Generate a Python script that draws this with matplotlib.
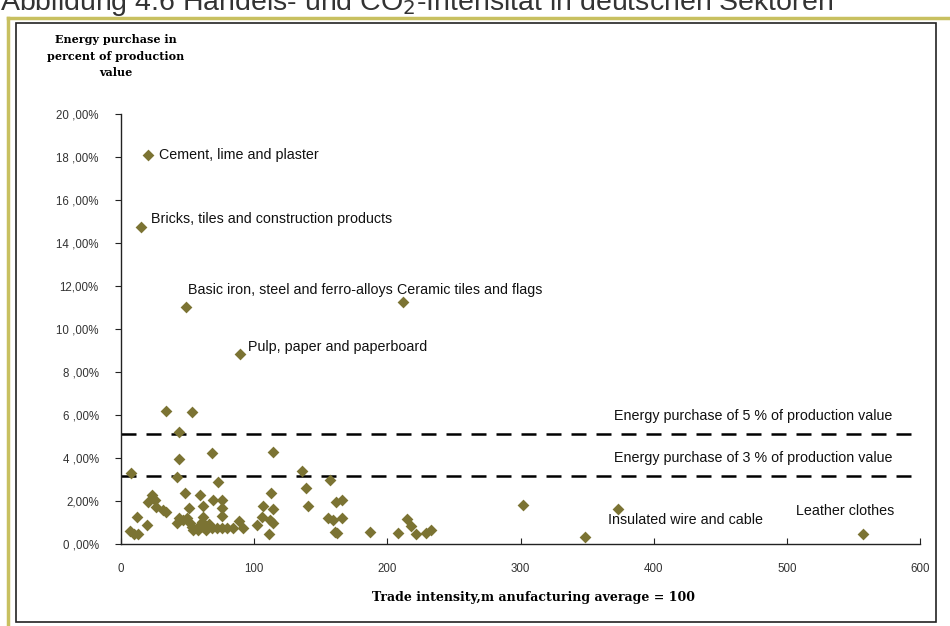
import numpy as np
import matplotlib.pyplot as plt
from matplotlib.lines import Line2D
from matplotlib.patches import Rectangle

# trade intensity (manufacturing average = 100) vs energy purchase in % of production value
trade = [7.5, 6.8, 10, 13, 12, 19.3, 20.5, 23, 25.5, 26.3, 31.8, 34, 33.8, 53.5,
         43.8, 43.8, 42, 41.8, 43.3, 46.8, 48, 51.3, 49.3, 51.8, 53, 54.3, 56.8,
         58, 59.3, 61.3, 61.8, 60.5, 61.8, 63.5, 66.3, 68, 68, 68.8, 71.8, 73,
         75.5, 75.5, 75.5, 75.5, 79.7, 83.8, 88.8, 91.8, 101.8, 106, 106.8, 111.5,
         111.8, 112.5, 114.3, 114.3, 114.3, 136, 139, 140.5, 155.6, 156.8, 159.3,
         161, 161.8, 162, 166.3, 166.3, 187.3, 208, 215, 218, 221.3, 229.3, 232.6,
         301.8, 348.8]
energy = [3.29, 0.62, 0.45, 0.48, 1.27, 0.9, 1.97, 2.28, 2.05, 1.72, 1.58, 1.48,
          6.2, 6.14, 5.19, 3.95, 3.13, 0.96, 1.19, 1.12, 2.36, 1.66, 1.19, 0.96,
          0.81, 0.65, 0.73, 0.65, 2.28, 1.78, 1.27, 1.04, 0.81, 0.65, 0.92, 0.73,
          4.22, 2.05, 0.76, 2.9, 2.05, 1.66, 1.32, 0.76, 0.76, 0.76, 1.07, 0.73,
          0.88, 1.27, 1.77, 0.45, 1.12, 2.39, 1.64, 0.99, 4.26, 3.41, 2.59, 1.77,
          1.19, 2.98, 1.12, 0.57, 1.97, 0.5, 2.05, 1.22, 0.57, 0.53, 1.15, 0.84,
          0.45, 0.53, 0.65, 1.81, 0.34]

# named sectors
sectors = ["Cement, lime and plaster", "Bricks, tiles and construction products",
           "Basic iron, steel and ferro-alloys", "Ceramic tiles and flags",
           "Pulp, paper and paperboard", "Insulated wire and cable", "Leather clothes"]
sector_trade = [20.3, 15, 48.8, 211.6, 89.3, 373.4, 557]
sector_energy = [18.1, 14.74, 11.02, 11.26, 8.84, 1.64, 0.46]
# label anchor (left edge / vertical centre)
label_x = [28.5, 22.5, 50.3, 207.5, 95.3, 366, 507]
label_y = [18.1, 15.1, 11.8, 11.8, 9.16, 1.12, 1.53]

thresholds = [5.1, 3.15]
threshold_text = ["Energy purchase of 5 % of production value",
                  "Energy purchase of 3 % of production value"]

yticks = [0, 2, 4, 6, 8, 10, 12, 14, 16, 18, 20]
ytick_labels = ["0 ,00%", "2,00%", "4 ,00%", "6 ,00%", "8 ,00%", "10 ,00%",
                "12,00%", "14 ,00%", "16 ,00%", "18 ,00%", "20 ,00%"]
xticks = [0, 100, 200, 300, 400, 500, 600]

olive = "#7b7333"
sans = "Liberation Sans"
serif = "DejaVu Serif"

fig = plt.figure(figsize=(9.5, 6.26), dpi=100)
W, H = 950, 626

# page decorations: olive rule and black frame
fig.add_artist(Line2D([8 / W, 8 / W], [0, 1 - 18 / H], color="#c8c060", lw=2.5))
fig.add_artist(Line2D([8 / W, 1], [1 - 18 / H, 1 - 18 / H], color="#c8c060", lw=2.5))
fig.add_artist(Rectangle((16 / W, 1 - 622 / H), (936 - 16) / W, (622 - 23) / H,
                         fill=False, ec="#222222", lw=1.2))
fig.text(0.0, 1 - 10 / H, "Abbildung 4.6 Handels- und CO$_2$-Intensität in deutschen Sektoren",
         fontsize=20.5, color="#333333", family=sans, ha="left", va="baseline")

ax = fig.add_axes([121 / W, 1 - 544 / H, (920 - 121) / W, (544 - 114) / H])

ax.scatter(trade, energy, marker="D", s=36, color=olive, zorder=3, linewidths=0)
ax.scatter(sector_trade, sector_energy, marker="D", s=36, color=olive, zorder=3,
           linewidths=0)

for name, lx, ly in zip(sectors, label_x, label_y):
    ax.text(lx, ly, name, fontsize=10.3, family=sans, ha="left", va="center",
            color="#111111")

for t, txt in zip(thresholds, threshold_text):
    ax.axhline(t, color="black", lw=1.8, dashes=(6, 4), zorder=2)
    ax.text(579, t + 0.85, txt, fontsize=10.3, family=sans, ha="right",
            va="center", color="#111111")

ax.set_xlim(0, 600)
ax.set_ylim(0, 20)
ax.set_xticks(xticks)
ax.set_xticklabels([str(v) for v in xticks], fontsize=8.3, family=sans, color="#333333")
ax.set_yticks(yticks)
ax.set_yticklabels(ytick_labels, fontsize=8.3, family=sans, color="#333333")
ax.tick_params(axis="x", direction="in", length=4, pad=14, color="#222222")
ax.tick_params(axis="y", direction="out", length=4, pad=12, color="#222222")

for side in ["top", "right"]:
    ax.spines[side].set_visible(False)
for side in ["left", "bottom"]:
    ax.spines[side].set_color("#222222")
    ax.spines[side].set_linewidth(1.0)

fig.text(534 / W, 1 - 598 / H, "Trade intensity,m anufacturing average = 100",
         fontsize=9, family=serif, fontweight="bold", ha="center", va="center")
fig.text(116 / W, 1 - 56 / H, "Energy purchase in\npercent of production\nvalue",
         fontsize=8, family=serif, fontweight="bold", ha="center", va="center",
         linespacing=1.6)

fig.savefig("out.png", dpi=100)
